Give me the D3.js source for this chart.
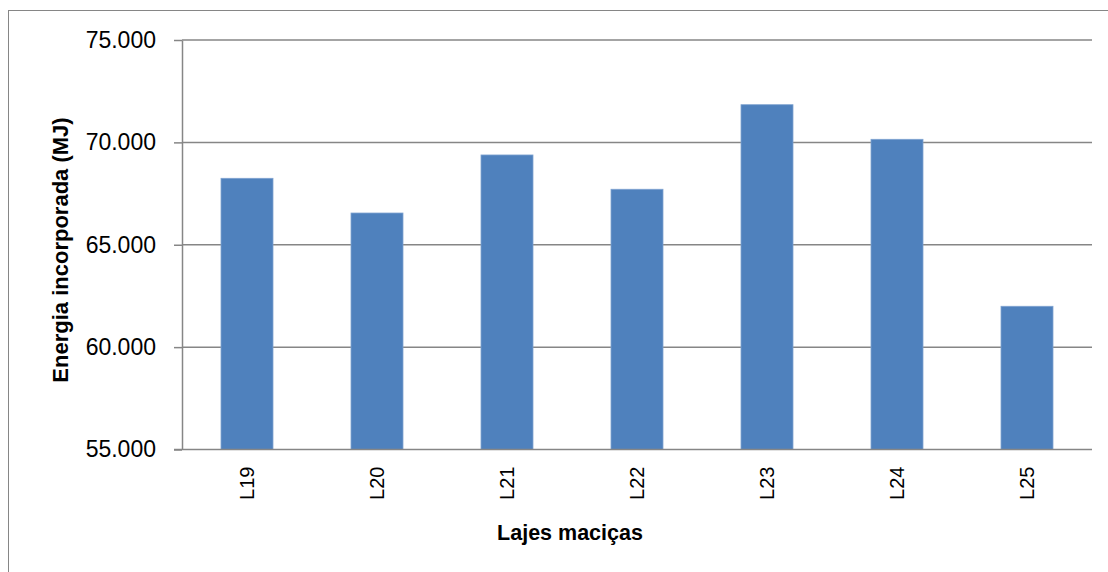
<!DOCTYPE html>
<html><head><meta charset="utf-8">
<script src="https://cdn.jsdelivr.net/npm/d3@7"></script>
<style>body{margin:0;background:#fff}svg{display:block}text{font-family:"Liberation Sans",Arial,sans-serif}</style>
</head><body>
<svg id="c" width="1108" height="572"></svg>
<script>
const categories = ["L19","L20","L21","L22","L23","L24","L25"];
const values = [68245, 66550, 69385, 67710, 71840, 70150, 61995];
const yTicks = [55000, 60000, 65000, 70000, 75000];
const yTitle = "Energia incorporada (MJ)";
const xTitle = "Lajes maciças";

(function () {
const svg = d3.select("#c");
const mLeft = 182, mRight = 1092, mTop = 40, mBottom = 449.5;

svg.append("rect").attr("x", 8.5).attr("y", 10.5).attr("width", 1120).attr("height", 600)
  .attr("fill", "#fff").attr("stroke", "#868686").attr("stroke-width", 1);

const x = d3.scaleBand().domain(categories).range([mLeft, mRight]).paddingInner(0.6).paddingOuter(0.3);
const y = d3.scaleLinear().domain([55000, 75000]).range([mBottom, mTop]);

// gridlines
svg.append("g").selectAll("line").data(yTicks.slice(1)).join("line")
  .attr("x1", mLeft).attr("x2", mRight).attr("y1", d => y(d)).attr("y2", d => y(d))
  .attr("stroke", "#868686").attr("stroke-width", 1.5);

// bars
svg.append("g").selectAll("rect").data(values).join("rect")
  .attr("x", (d, i) => x(categories[i])).attr("width", x.bandwidth())
  .attr("y", d => y(d)).attr("height", d => y(55000) - y(d))
  .attr("fill", "#4F81BD").attr("stroke", "#7FA3D0").attr("stroke-width", 0.8);

// y axis
const fmt = d => d3.format(",")(d).replace(/,/g, ".");
const ya = svg.append("g").attr("transform", `translate(${mLeft},0)`)
  .call(d3.axisLeft(y).tickValues(yTicks).tickFormat(fmt).tickSize(8).tickSizeOuter(0).tickPadding(18));
ya.select(".domain").attr("stroke", "#868686").attr("stroke-width", 1.5);
ya.selectAll(".tick line").attr("stroke", "#868686").attr("stroke-width", 1.5);
ya.selectAll(".tick text").attr("font-size", 23).attr("fill", "#000")
  .attr("font-family", '"Liberation Sans",Arial,sans-serif');

// x axis
const xa = svg.append("g").attr("transform", `translate(0,${mBottom})`)
  .call(d3.axisBottom(x).tickSize(0).tickSizeOuter(0));
xa.select(".domain").attr("stroke", "#868686").attr("stroke-width", 1.5)
  .attr("d", `M${mLeft - 8},0H${mRight}`);
xa.selectAll(".tick text").attr("font-size", 20).attr("fill", "#000")
  .attr("font-family", '"Liberation Sans",Arial,sans-serif')
  .attr("transform", "rotate(-90)").attr("text-anchor", "end")
  .attr("x", -17).attr("y", 0).attr("dy", "0.35em");

// titles
svg.append("text").attr("x", 570).attr("y", 540).attr("text-anchor", "middle")
  .attr("font-size", 21.5).attr("font-weight", "bold").text(xTitle);
svg.append("text").attr("transform", "translate(68,250) rotate(-90)").attr("text-anchor", "middle")
  .attr("font-size", 22).attr("font-weight", "bold").text(yTitle);
})();
</script>
</body></html>
